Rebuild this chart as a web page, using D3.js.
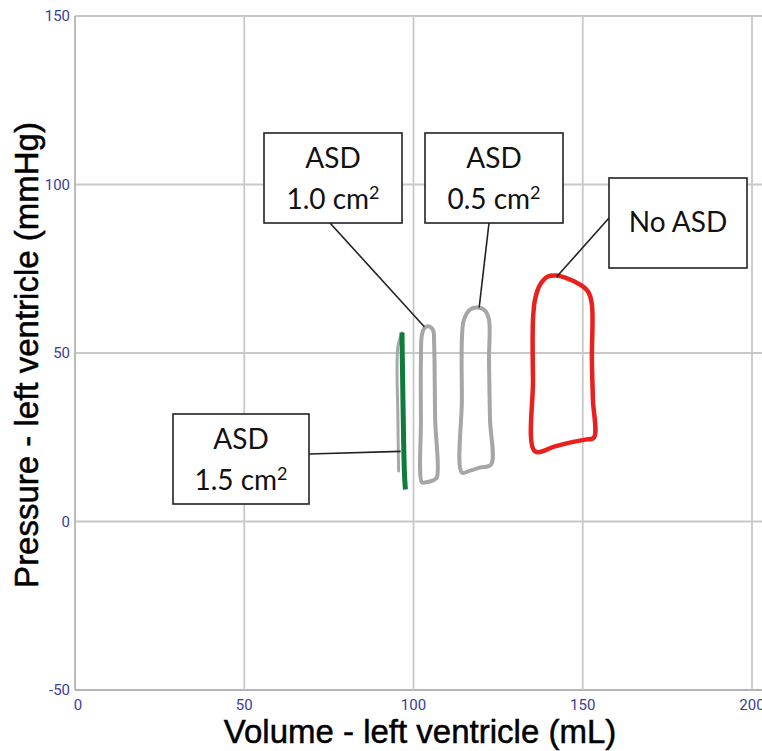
<!DOCTYPE html>
<html>
<head>
<meta charset="utf-8">
<script src="https://cdn.jsdelivr.net/npm/d3@7"></script>
<style>
  html, body { margin: 0; padding: 0; background: #fff; }
  svg { display: block; }
</style>
</head>
<body>
<svg id="chart" width="762" height="751"></svg>
<script>
// ---------- data ----------
const xTicks = [0, 50, 100, 150, 200];
const yTicks = [-50, 0, 50, 100, 150];
const xTitle = "Volume - left ventricle (mL)";
const yTitle = "Pressure - left ventricle (mmHg)";

// pressure-volume loops [volume mL, pressure mmHg]
const loopNoASD = [
  [135.9, 20.8], [135.3, 42.1], [135.3, 59.9], [135.9, 65.9], [137.4, 70.3],
  [139.7, 72.7], [142.1, 73.0], [144.8, 72.4], [149.2, 70.3], [151.6, 68.2],
  [152.7, 64.4], [152.7, 48.1], [153.0, 36.2], [153.3, 24.9], [150.7, 24.3],
  [146.2, 23.4], [141.8, 22.3]
];
const loopASD05 = [
  [114.3, 14.5], [114.3, 36.2], [114.3, 54.0], [114.9, 59.9], [116.7, 62.9],
  [119.1, 63.5], [121.1, 62.6], [122.3, 59.9], [122.3, 48.1], [122.6, 30.3],
  [122.9, 16.9], [119.6, 16.0], [116.7, 15.1]
];
const loopASD10 = [
  [102.5, 11.6], [102.2, 30.3], [102.2, 48.1], [102.5, 55.5], [103.4, 57.6],
  [104.6, 57.9], [105.8, 56.7], [106.1, 52.5], [106.4, 30.3], [106.9, 13.1],
  [105.8, 12.2], [103.4, 11.6]
];
const loopASD15 = [
  [96.6, 56.1], [96.9, 35.0], [97.3, 15.0], [97.6, 9.5]
];
const loopASD15Ghost = [
  [96.6, 56.0], [95.4, 52.0], [95.4, 30.0], [95.6, 15.0]
];

// callouts: label lines (main text, superscript) and the loop point each leader points to
const callouts = [
  { lines: [["ASD", ""], ["1.5 cm", "2"]], target: [96.2, 20.8] },
  { lines: [["ASD", ""], ["1.0 cm", "2"]], target: [103.2, 57.8] },
  { lines: [["ASD", ""], ["0.5 cm", "2"]], target: [119.4, 63.5] },
  { lines: [["No ASD", ""]],               target: [142.3, 72.6] }
];

// ---------- layout ----------
const boxLayout = [
  { x: 173, y: 414, w: 136, h: 90, from: [309, 454] },
  { x: 264, y: 133, w: 138, h: 90, from: [330, 223] },
  { x: 425, y: 133, w: 138, h: 90, from: [489, 223] },
  { x: 609, y: 178, w: 138, h: 90, from: [609, 218] }
];

const svg = d3.select("#chart");
const x = d3.scaleLinear().domain([0, 200]).range([75, 752]);
const y = d3.scaleLinear().domain([-50, 150]).range([690, 16]);

const gridColor = "#c8c8c8";
const tickColor = "#3b3d9a";
const tickFont = "'Liberation Sans Narrow', 'Arial Narrow', Roboto, sans-serif";

// horizontal grid lines (extend to right edge)
svg.append("g").selectAll("line").data(yTicks).join("line")
  .attr("x1", x(0)).attr("x2", 762)
  .attr("y1", d => y(d)).attr("y2", d => y(d))
  .attr("stroke", d => d === -50 ? "#b4b4b4" : gridColor)
  .attr("stroke-width", 1.8);

// vertical grid lines
svg.append("g").selectAll("line").data(xTicks).join("line")
  .attr("x1", d => x(d)).attr("x2", d => x(d))
  .attr("y1", y(150)).attr("y2", y(-50))
  .attr("stroke", d => d === 0 ? "#b4b4b4" : gridColor)
  .attr("stroke-width", 1.8);

// y tick labels
svg.append("g").selectAll("text").data(yTicks).join("text")
  .attr("x", 70).attr("y", d => y(d))
  .attr("dy", "0.35em")
  .attr("text-anchor", "end")
  .attr("font-family", tickFont).attr("font-size", 15)
  .attr("fill", tickColor)
  .text(d => d);

// x tick labels
svg.append("g").selectAll("text").data(xTicks).join("text")
  .attr("x", d => x(d) + (d === 0 ? 3 : 0)).attr("y", 705)
  .attr("dy", "0.35em")
  .attr("text-anchor", "middle")
  .attr("font-family", tickFont).attr("font-size", 15)
  .attr("fill", tickColor)
  .text(d => d);

// axis titles
svg.append("text")
  .attr("x", 420).attr("y", 743)
  .attr("text-anchor", "middle")
  .attr("font-family", "'Liberation Sans', Arial, sans-serif")
  .attr("font-size", 33)
  .attr("fill", "#000").attr("stroke", "#000").attr("stroke-width", 0.5)
  .text(xTitle);

svg.append("text")
  .attr("transform", "translate(38,355) rotate(-90)")
  .attr("text-anchor", "middle")
  .attr("font-family", "'Liberation Sans', Arial, sans-serif")
  .attr("font-size", 33)
  .attr("fill", "#000").attr("stroke", "#000").attr("stroke-width", 0.5)
  .text(yTitle);

// loops
const closed = d3.line().x(d => x(d[0])).y(d => y(d[1])).curve(d3.curveCatmullRomClosed.alpha(0.5));
const open = d3.line().x(d => x(d[0])).y(d => y(d[1])).curve(d3.curveCatmullRom.alpha(0.5));

const loops = svg.append("g").attr("fill", "none").attr("stroke-linejoin", "round").attr("stroke-linecap", "round");
loops.append("path").attr("d", open(loopASD15Ghost)).attr("stroke", "#a8a8a8").attr("stroke-width", 3);
loops.append("path").attr("d", closed(loopASD10)).attr("stroke", "#a6a6a6").attr("stroke-width", 4);
loops.append("path").attr("d", closed(loopASD05)).attr("stroke", "#a6a6a6").attr("stroke-width", 4);
loops.append("path").attr("d", closed(loopNoASD)).attr("stroke", "#e8201e").attr("stroke-width", 4.5);
loops.append("path").attr("d", open(loopASD15)).attr("stroke", "#0f7a3c").attr("stroke-width", 5).attr("stroke-linecap", "butt");

// callouts
const cg = svg.append("g");
callouts.forEach((c, i) => {
  const b = boxLayout[i];
  cg.append("line")
    .attr("x1", b.from[0]).attr("y1", b.from[1])
    .attr("x2", x(c.target[0])).attr("y2", y(c.target[1]))
    .attr("stroke", "#222").attr("stroke-width", 1.6);
  cg.append("rect")
    .attr("x", b.x).attr("y", b.y).attr("width", b.w).attr("height", b.h)
    .attr("fill", "#fff").attr("stroke", "#222").attr("stroke-width", 1.6);
  const n = c.lines.length;
  c.lines.forEach((t, j) => {
    const baseY = n === 1 ? b.y + 54 : b.y + 35 + j * 41;
    const txt = cg.append("text")
      .attr("x", b.x + b.w / 2).attr("y", baseY)
      .attr("text-anchor", "middle")
      .attr("font-family", "Lato, 'Open Sans', sans-serif")
      .attr("font-size", 28)
      .attr("fill", "#111");
    txt.append("tspan").text(t[0]);
    if (t[1]) {
      txt.append("tspan").attr("font-size", 18).attr("dy", -10).text(t[1]);
    }
  });
});
</script>
</body>
</html>
